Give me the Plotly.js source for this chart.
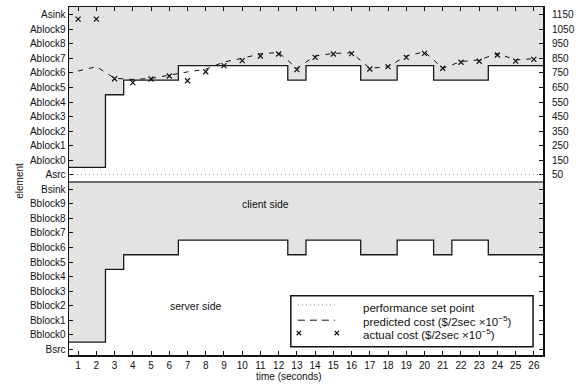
<!DOCTYPE html>
<html>
<head>
<meta charset="utf-8">
<script src="https://cdn.plot.ly/plotly-3.0.1.min.js"></script>
<style>html,body{margin:0;padding:0;background:#fff}#chart{width:580px;height:386px}</style>
</head>
<body>
<div id="chart"></div>
<script>
// ---- data ----
const times = [1,2,3,4,5,6,7,8,9,10,11,12,13,14,15,16,17,18,19,20,21,22,23,24,25,26];
const elements = ['Bsrc','Bblock0','Bblock1','Bblock2','Bblock3','Bblock4','Bblock5','Bblock6','Bblock7','Bblock8','Bblock9','Bsink',
                  'Asrc','Ablock0','Ablock1','Ablock2','Ablock3','Ablock4','Ablock5','Ablock6','Ablock7','Ablock8','Ablock9','Asink'];
// number of blocks placed on the server side at each second
const serverBlocksA = [0,0,5,6,6,6,7,7,7,7,7,7,6,7,7,7,6,6,7,7,6,6,6,7,7,7];
const serverBlocksB = [0,0,5,6,6,6,7,7,7,7,7,7,6,7,7,7,6,6,7,7,6,7,7,6,6,6];
const predictedCost = [763,793,713,705,712,735,757,775,825,850,882,890,782,866,884,888,782,793,866,895,782,828,839,884,839,848];
const actualCost = [1120,1120,710,683,708,729,696,758,800,834,866,880,772,857,880,882,777,793,857,884,782,823,830,873,831,843];
const setPoint = 50;
const costTicks = [50,150,250,350,450,550,650,750,850,950,1050,1150];

// ---- derived ----
const iAsrc = elements.indexOf('Asrc');
const iBsrc = elements.indexOf('Bsrc');
const iBsink = elements.indexOf('Bsink');
const stepX = times.map(t => t - 0.5).concat([times[times.length-1] + 0.5]);
const levelA = serverBlocksA.map(n => iAsrc + n + 0.5);
const levelB = serverBlocksB.map(n => iBsrc + n + 0.5);
const stepYA = levelA.concat([levelA[levelA.length-1]]);
const stepYB = levelB.concat([levelB[levelB.length-1]]);
const xEnds = [stepX[0], stepX[stepX.length-1]];

const yRange = [-0.39, 23.53];
const costPerElem = 100;
const y2Range = yRange.map(v => setPoint + (v - iAsrc) * costPerElem);

const FONT = 'Liberation Sans, Arial, Helvetica, sans-serif';
const gray = '#e3e3e3';

const traces = [
  {x: xEnds, y: [elements.length, elements.length], mode: 'lines', line: {width: 0, color: 'rgba(0,0,0,0)'}, hoverinfo: 'skip', showlegend: false},
  {x: stepX, y: stepYA, mode: 'lines', line: {shape: 'hv', color: '#1a1a1a', width: 1.3}, fill: 'tonexty', fillcolor: gray, showlegend: false},
  {x: xEnds, y: [iBsink + 0.5, iBsink + 0.5], mode: 'lines', line: {width: 1.6, color: '#444'}, hoverinfo: 'skip', showlegend: false},
  {x: stepX, y: stepYB, mode: 'lines', line: {shape: 'hv', color: '#1a1a1a', width: 1.3}, fill: 'tonexty', fillcolor: gray, showlegend: false},
  {x: times, y: predictedCost, yaxis: 'y2', mode: 'lines', name: 'predicted cost', line: {color: '#111', width: 1, dash: '5px,6px'}, showlegend: false},
  {x: times, y: actualCost, yaxis: 'y2', mode: 'markers', name: 'actual cost', marker: {symbol: 'x-thin-open', size: 5, color: '#111', line: {width: 1.2, color: '#111'}}, showlegend: false}
];

// legend geometry (paper coords)
const L = {x0: 0.468, x1: 0.979, y0: 0.024, y1: 0.170, sx0: 0.483, sx1: 0.561, tx: 0.616, rows: [0.144, 0.1, 0.063]};
const mk = (cx, cy) => {
  const dx = 0.0046, dy = 0.0063;
  return {type: 'path', xref: 'paper', yref: 'paper', line: {color: '#111', width: 1.2},
          path: `M${cx-dx},${cy-dy} L${cx+dx},${cy+dy} M${cx-dx},${cy+dy} L${cx+dx},${cy-dy}`};
};

const layout = {
  width: 580, height: 386,
  margin: {l: 69, r: 37, t: 7, b: 31},
  paper_bgcolor: '#fff', plot_bgcolor: '#fff',
  font: {family: FONT, size: 10, color: '#111'},
  xaxis: {range: [0.5, 26.5], tickvals: times, ticks: 'inside', ticklen: 4, tickcolor: '#111',
          showline: true, linecolor: '#111', linewidth: 1.5, mirror: 'ticks', showgrid: false, zeroline: false,
          tickfont: {size: 10}},
  yaxis: {range: yRange, tickvals: elements.map((_, i) => i), ticktext: elements, ticks: 'inside', ticklen: 4, tickcolor: '#111',
          showline: true, linecolor: '#111', linewidth: 1.5, mirror: 'ticks', showgrid: false, zeroline: false,
          tickfont: {size: 10}, title: {text: 'element', font: {size: 10}, standoff: 4}},
  yaxis2: {overlaying: 'y', side: 'right', range: y2Range, tickvals: costTicks, ticks: '', showgrid: false, zeroline: false,
           showline: false, tickfont: {size: 10}, ticklabelstandoff: 8},
  shapes: [
    {type: 'line', xref: 'paper', x0: 0, x1: 1, yref: 'y2', y0: setPoint, y1: setPoint, line: {color: '#888', width: 1, dash: '1px,3px'}},
    {type: 'rect', xref: 'paper', yref: 'paper', x0: L.x0, x1: L.x1, y0: L.y0, y1: L.y1, fillcolor: '#fff', line: {color: '#111', width: 1.5}},
    {type: 'line', xref: 'paper', yref: 'paper', x0: L.sx0, x1: L.sx1, y0: L.rows[0], y1: L.rows[0], line: {color: '#888', width: 1, dash: '1px,3px'}},
    {type: 'line', xref: 'paper', yref: 'paper', x0: L.sx0, x1: L.sx1, y0: L.rows[1], y1: L.rows[1], line: {color: '#111', width: 1, dash: '7px,5px'}},
    mk(0.485, L.rows[2]), mk(0.565, L.rows[2])
  ],
  annotations: [
    {x: 0.464, y: -0.063, xref: 'paper', yref: 'paper', xanchor: 'center', yanchor: 'middle', text: 'time (seconds)', showarrow: false, font: {size: 10}},
    {x: 11.3, y: 10, xref: 'x', yref: 'y', xanchor: 'center', yanchor: 'middle', text: 'client side', showarrow: false, font: {size: 10.5}},
    {x: 7.45, y: 3, xref: 'x', yref: 'y', xanchor: 'center', yanchor: 'middle', text: 'server side', showarrow: false, font: {size: 10.5}},
    {x: L.tx, y: L.rows[0] - 0.009, xref: 'paper', yref: 'paper', xanchor: 'left', yanchor: 'middle', text: 'performance set point', showarrow: false, font: {size: 11.5}},
    {x: L.tx, y: L.rows[1] - 0.003, xref: 'paper', yref: 'paper', xanchor: 'left', yanchor: 'middle', text: 'predicted cost ($/2sec ×10<sup>−5</sup>)', showarrow: false, font: {size: 11.5}},
    {x: L.tx, y: L.rows[2] - 0.004, xref: 'paper', yref: 'paper', xanchor: 'left', yanchor: 'middle', text: 'actual cost ($/2sec ×10<sup>−5</sup>)', showarrow: false, font: {size: 11.5}}
  ]
};

Plotly.newPlot('chart', traces, layout, {staticPlot: true, displayModeBar: false});
</script>
</body>
</html>
